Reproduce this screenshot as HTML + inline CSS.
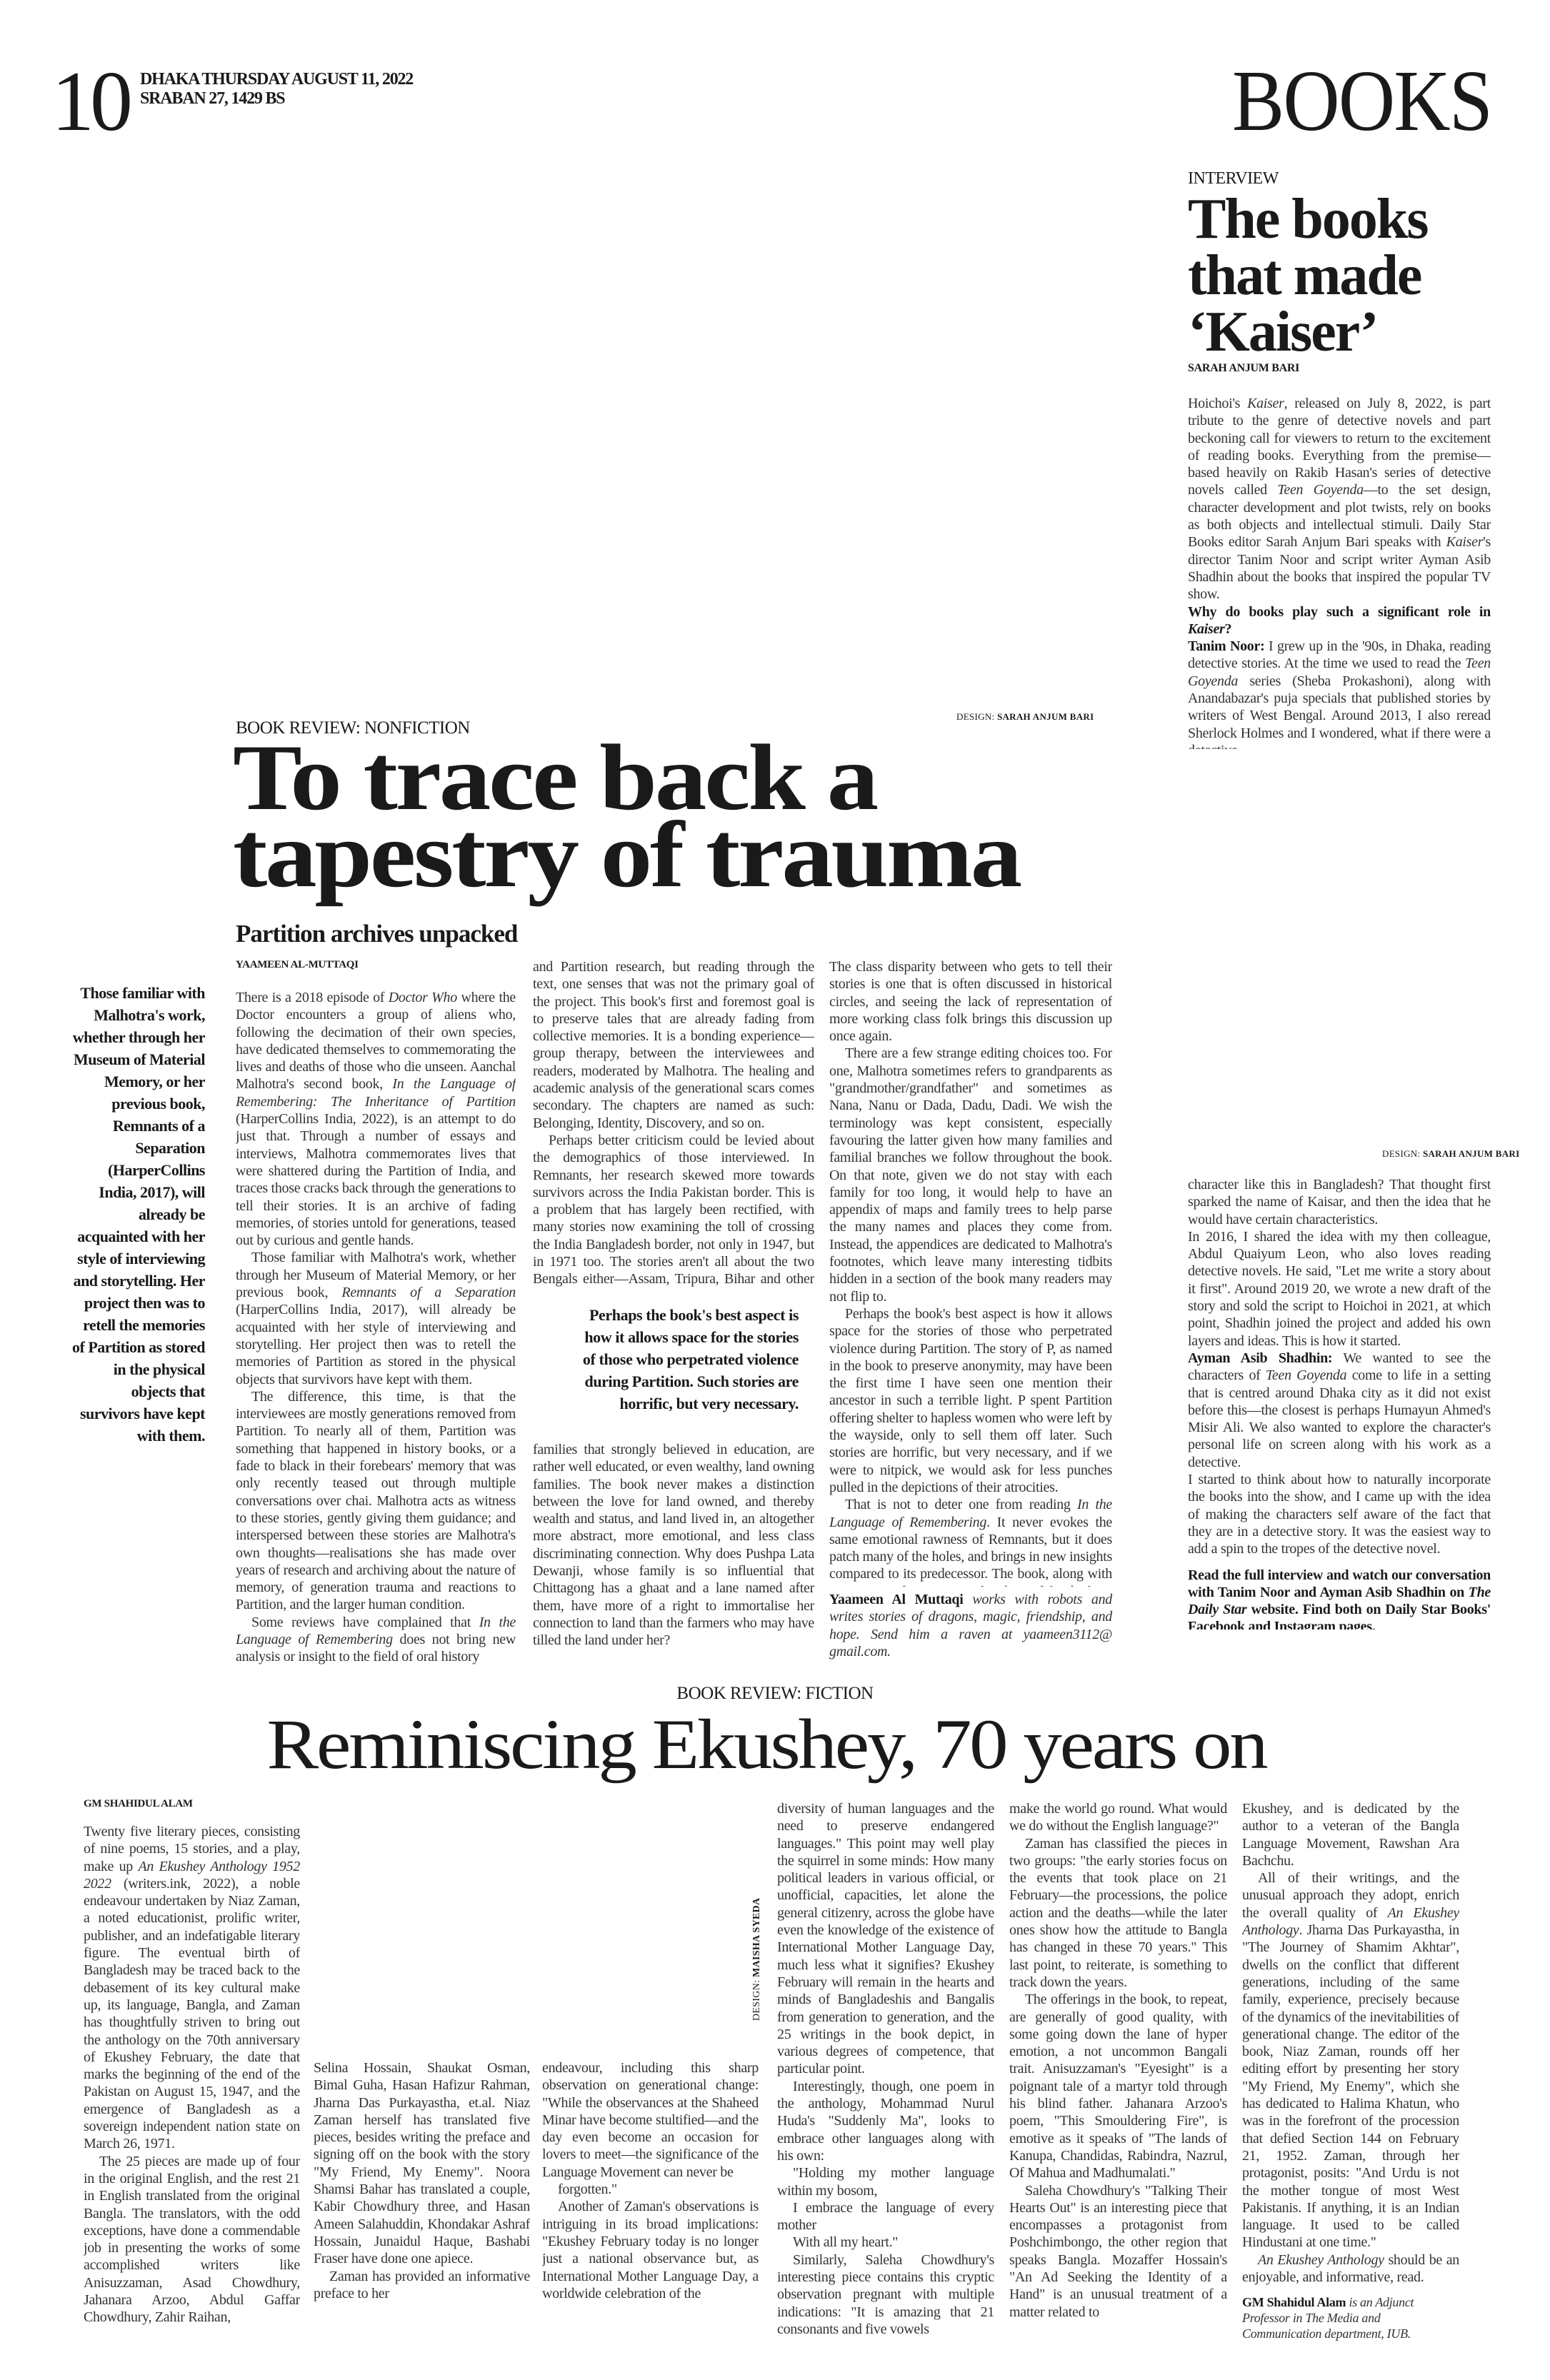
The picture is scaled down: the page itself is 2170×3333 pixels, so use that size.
<!DOCTYPE html>
<html><head><meta charset="utf-8">
<style>
*{margin:0;padding:0;box-sizing:border-box}
body{width:2170px;height:3333px;background:#fff;position:relative;overflow:hidden;font-family:"Liberation Serif",serif;color:#1a1a1a}
.a{position:absolute}
.col{position:absolute;font-size:20px;line-height:24.3px;text-align:justify;overflow:hidden;letter-spacing:-0.3px;color:#333}
.col p{text-indent:0}
.col p+p{text-indent:22px}
.kick{font-size:25px;letter-spacing:-0.5px;color:#1a1a1a}
.by{font-size:16px;font-weight:bold;letter-spacing:-0.3px}
b{color:#1a1a1a}
</style></head><body>

<div class="a" style="left:72px;top:82px;font-size:120px;line-height:120px;letter-spacing:-6px;transform:scaleX(1.0);transform-origin:left">10</div>
<div class="a" style="left:196px;top:98px;font-size:24px;line-height:27px;font-weight:bold;letter-spacing:-1.2px">DHAKA THURSDAY AUGUST 11, 2022<br>SRABAN 27, 1429 BS</div>
<div class="a" style="left:1725px;top:82px;font-size:122px;line-height:120px;transform:scaleX(0.9);transform-origin:left;letter-spacing:-2px">BOOKS</div>

<div class="a kick" style="left:1663px;top:237px;font-size:24px">INTERVIEW</div>
<div class="a" style="left:1663px;top:268px;font-size:80px;line-height:79px;font-weight:bold;letter-spacing:-2px">The books<br>that made<br>‘Kaiser’</div>
<div class="a by" style="left:1663px;top:507px">SARAH ANJUM BARI</div>

<div class="col" style="left:1663px;top:553px;width:424px;height:496px">
<p>Hoichoi's <i>Kaiser</i>, released on July 8, 2022, is part tribute to the genre of detective novels and part beckoning call for viewers to return to the excitement of reading books. Everything from the premise—based heavily on Rakib Hasan's series of detective novels called <i>Teen Goyenda</i>—to the set design, character development and plot twists, rely on books as both objects and intellectual stimuli. Daily Star Books editor Sarah Anjum Bari speaks with <i>Kaiser</i>'s director Tanim Noor and script writer Ayman Asib Shadhin about the books that inspired the popular TV show.</p>
<p style="text-indent:0"><b>Why do books play such a significant role in <i>Kaiser</i>?</b></p>
<p style="text-indent:0"><b>Tanim Noor:</b> I grew up in the '90s, in Dhaka, reading detective stories. At the time we used to read the <i>Teen Goyenda</i> series (Sheba Prokashoni), along with Anandabazar's puja specials that published stories by writers of West Bengal. Around 2013, I also reread Sherlock Holmes and I wondered, what if there were a detective</p>
</div>

<div class="a" style="left:1339px;top:996px;font-size:13px;letter-spacing:0.3px">DESIGN: <b>SARAH ANJUM BARI</b></div>
<div class="a" style="left:1935px;top:1608px;font-size:13px;letter-spacing:0.3px">DESIGN: <b>SARAH ANJUM BARI</b></div>

<div class="col" style="left:1663px;top:1647px;width:424px;height:635px">
<p>character like this in Bangladesh? That thought first sparked the name of Kaisar, and then the idea that he would have certain characteristics.</p>
<p style="text-indent:0">In 2016, I shared the idea with my then colleague, Abdul Quaiyum Leon, who also loves reading detective novels. He said, "Let me write a story about it first". Around 2019 20, we wrote a new draft of the story and sold the script to Hoichoi in 2021, at which point, Shadhin joined the project and added his own layers and ideas. This is how it started.</p>
<p style="text-indent:0"><b>Ayman Asib Shadhin:</b> We wanted to see the characters of <i>Teen Goyenda</i> come to life in a setting that is centred around Dhaka city as it did not exist before this—the closest is perhaps Humayun Ahmed's Misir Ali. We also wanted to explore the character's personal life on screen along with his work as a detective.</p>
<p style="text-indent:0">I started to think about how to naturally incorporate the books into the show, and I came up with the idea of making the characters self aware of the fact that they are in a detective story. It was the easiest way to add a spin to the tropes of the detective novel.</p>
<p style="text-indent:0;margin-top:12px"><b>Read the full interview and watch our conversation with Tanim Noor and Ayman Asib Shadhin on <i>The Daily Star</i> website. Find both on Daily Star Books' Facebook and Instagram pages.</b></p>
</div>

<div class="a kick" style="left:330px;top:1006px">BOOK REVIEW: NONFICTION</div>
<div class="a" style="left:326px;top:1035px;font-size:132px;line-height:108px;font-weight:bold;letter-spacing:-3px;white-space:nowrap;transform:scaleX(1.1);transform-origin:left top">To trace back a<br>tapestry of trauma</div>
<div class="a" style="left:330px;top:1288px;font-size:35px;font-weight:bold;letter-spacing:-1px">Partition archives unpacked</div>
<div class="a by" style="left:330px;top:1343px;font-size:15px">YAAMEEN AL-MUTTAQI</div>

<div class="a" style="left:100px;top:1375px;width:187px;font-size:22px;line-height:31px;font-weight:bold;text-align:right;letter-spacing:-0.5px">Those familiar with Malhotra's work, whether through her Museum of Material Memory, or her previous book, Remnants of a Separation (HarperCollins India, 2017), will already be acquainted with her style of interviewing and storytelling. Her project then was to retell the memories of Partition as stored in the physical objects that survivors have kept with them.</div>

<div class="col" style="left:330px;top:1385px;width:392px;height:950px">
<p>There is a 2018 episode of <i>Doctor Who</i> where the Doctor encounters a group of aliens who, following the decimation of their own species, have dedicated themselves to commemorating the lives and deaths of those who die unseen. Aanchal Malhotra's second book, <i>In the Language of Remembering: The Inheritance of Partition</i> (HarperCollins India, 2022), is an attempt to do just that. Through a number of essays and interviews, Malhotra commemorates lives that were shattered during the Partition of India, and traces those cracks back through the generations to tell their stories. It is an archive of fading memories, of stories untold for generations, teased out by curious and gentle hands.</p>
<p>Those familiar with Malhotra's work, whether through her Museum of Material Memory, or her previous book, <i>Remnants of a Separation</i> (HarperCollins India, 2017), will already be acquainted with her style of interviewing and storytelling. Her project then was to retell the memories of Partition as stored in the physical objects that survivors have kept with them.</p>
<p>The difference, this time, is that the interviewees are mostly generations removed from Partition. To nearly all of them, Partition was something that happened in history books, or a fade to black in their forebears' memory that was only recently teased out through multiple conversations over chai. Malhotra acts as witness to these stories, gently giving them guidance; and interspersed between these stories are Malhotra's own thoughts—realisations she has made over years of research and archiving about the nature of memory, of generation trauma and reactions to Partition, and the larger human condition.</p>
<p>Some reviews have complained that <i>In the Language of Remembering</i> does not bring new analysis or insight to the field of oral history</p>
</div>

<div class="col" style="left:746px;top:1342px;width:394px;height:462px">
<p>and Partition research, but reading through the text, one senses that was not the primary goal of the project. This book's first and foremost goal is to preserve tales that are already fading from collective memories. It is a bonding experience—group therapy, between the interviewees and readers, moderated by Malhotra. The healing and academic analysis of the generational scars comes secondary. The chapters are named as such: Belonging, Identity, Discovery, and so on.</p>
<p>Perhaps better criticism could be levied about the demographics of those interviewed. In Remnants, her research skewed more towards survivors across the India Pakistan border. This is a problem that has largely been rectified, with many stories now examining the toll of crossing the India Bangladesh border, not only in 1947, but in 1971 too. The stories aren't all about the two Bengals either—Assam, Tripura, Bihar and other border states get to share too.</p>
<p>However, the tales still all lean towards</p>
</div>

<div class="a" style="left:812px;top:1826px;width:306px;font-size:22px;line-height:31px;font-weight:bold;text-align:right;letter-spacing:-0.4px">Perhaps the book's best aspect is how it allows space for the stories of those who perpetrated violence during Partition. Such stories are horrific, but very necessary.</div>

<div class="col" style="left:746px;top:2018px;width:394px;height:318px">
<p>families that strongly believed in education, are rather well educated, or even wealthy, land owning families. The book never makes a distinction between the love for land owned, and thereby wealth and status, and land lived in, an altogether more abstract, more emotional, and less class discriminating connection. Why does Pushpa Lata Dewanji, whose family is so influential that Chittagong has a ghaat and a lane named after them, have more of a right to immortalise her connection to land than the farmers who may have tilled the land under her?</p>
</div>

<div class="col" style="left:1161px;top:1342px;width:396px;height:880px">
<p>The class disparity between who gets to tell their stories is one that is often discussed in historical circles, and seeing the lack of representation of more working class folk brings this discussion up once again.</p>
<p>There are a few strange editing choices too. For one, Malhotra sometimes refers to grandparents as "grandmother/grandfather" and sometimes as Nana, Nanu or Dada, Dadu, Dadi. We wish the terminology was kept consistent, especially favouring the latter given how many families and familial branches we follow throughout the book. On that note, given we do not stay with each family for too long, it would help to have an appendix of maps and family trees to help parse the many names and places they come from. Instead, the appendices are dedicated to Malhotra's footnotes, which leave many interesting tidbits hidden in a section of the book many readers may not flip to.</p>
<p>Perhaps the book's best aspect is how it allows space for the stories of those who perpetrated violence during Partition. The story of P, as named in the book to preserve anonymity, may have been the first time I have seen one mention their ancestor in such a terrible light. P spent Partition offering shelter to hapless women who were left by the wayside, only to sell them off later. Such stories are horrific, but very necessary, and if we were to nitpick, we would ask for less punches pulled in the depictions of their atrocities.</p>
<p>That is not to deter one from reading <i>In the Language of Remembering</i>. It never evokes the same emotional rawness of Remnants, but it does patch many of the holes, and brings in new insights compared to its predecessor. The book, along with <i>Remnants</i>, forms a truly beautiful duology archiving the minutia of Partition.</p>
</div>
<div class="col" style="left:1161px;top:2228px;width:396px;height:100px">
<p><b>Yaameen Al Muttaqi</b> <i>works with robots and writes stories of dragons, magic, friendship, and hope. Send him a raven at yaameen3112@ gmail.com.</i></p>
</div>

<div class="a kick" style="left:0;width:2170px;text-align:center;top:2358px">BOOK REVIEW: FICTION</div>
<div class="a" style="left:0;width:2170px;text-align:center;top:2388px;font-size:100px;line-height:110px;letter-spacing:-3px;white-space:nowrap;transform:translateX(-12px) scaleX(1.09);transform-origin:center top">Reminiscing Ekushey, 70 years on</div>
<div class="a by" style="left:117px;top:2518px;font-size:15px">GM SHAHIDUL ALAM</div>

<div class="col" style="left:117px;top:2553px;width:303px;height:725px">
<p>Twenty five literary pieces, consisting of nine poems, 15 stories, and a play, make up <i>An Ekushey Anthology 1952 2022</i> (writers.ink, 2022), a noble endeavour undertaken by Niaz Zaman, a noted educationist, prolific writer, publisher, and an indefatigable literary figure. The eventual birth of Bangladesh may be traced back to the debasement of its key cultural make up, its language, Bangla, and Zaman has thoughtfully striven to bring out the anthology on the 70th anniversary of Ekushey February, the date that marks the beginning of the end of the Pakistan on August 15, 1947, and the emergence of Bangladesh as a sovereign independent nation state on March 26, 1971.</p>
<p>The 25 pieces are made up of four in the original English, and the rest 21 in English translated from the original Bangla. The translators, with the odd exceptions, have done a commendable job in presenting the works of some accomplished writers like Anisuzzaman, Asad Chowdhury, Jahanara Arzoo, Abdul Gaffar Chowdhury, Zahir Raihan,</p>
</div>

<div class="col" style="left:439px;top:2884px;width:303px;height:394px">
<p>Selina Hossain, Shaukat Osman, Bimal Guha, Hasan Hafizur Rahman, Jharna Das Purkayastha, et.al. Niaz Zaman herself has translated five pieces, besides writing the preface and signing off on the book with the story "My Friend, My Enemy". Noora Shamsi Bahar has translated a couple, Kabir Chowdhury three, and Hasan Ameen Salahuddin, Khondakar Ashraf Hossain, Junaidul Haque, Bashabi Fraser have done one apiece.</p>
<p>Zaman has provided an informative preface to her</p>
</div>

<div class="col" style="left:759px;top:2884px;width:303px;height:394px">
<p>endeavour, including this sharp observation on generational change: "While the observances at the Shaheed Minar have become stultified—and the day even become an occasion for lovers to meet—the significance of the Language Movement can never be</p>
<p>forgotten."</p>
<p>Another of Zaman's observations is intriguing in its broad implications: "Ekushey February today is no longer just a national observance but, as International Mother Language Day, a worldwide celebration of the</p>
</div>

<div class="a" style="left:1052px;top:2830px;font-size:14px;white-space:nowrap;transform:rotate(-90deg);transform-origin:left top;letter-spacing:0.3px">DESIGN: <b>MAISHA SYEDA</b></div>

<div class="col" style="left:1088px;top:2521px;width:304px;height:757px">
<p>diversity of human languages and the need to preserve endangered languages." This point may well play the squirrel in some minds: How many political leaders in various official, or unofficial, capacities, let alone the general citizenry, across the globe have even the knowledge of the existence of International Mother Language Day, much less what it signifies? Ekushey February will remain in the hearts and minds of Bangladeshis and Bangalis from generation to generation, and the 25 writings in the book depict, in various degrees of competence, that particular point.</p>
<p>Interestingly, though, one poem in the anthology, Mohammad Nurul Huda's "Suddenly Ma", looks to embrace other languages along with his own:</p>
<p>"Holding my mother language within my bosom,</p>
<p>I embrace the language of every mother</p>
<p>With all my heart."</p>
<p>Similarly, Saleha Chowdhury's interesting piece contains this cryptic observation pregnant with multiple indications: "It is amazing that 21 consonants and five vowels</p>
</div>

<div class="col" style="left:1413px;top:2521px;width:305px;height:757px">
<p>make the world go round. What would we do without the English language?"</p>
<p>Zaman has classified the pieces in two groups: "the early stories focus on the events that took place on 21 February—the processions, the police action and the deaths—while the later ones show how the attitude to Bangla has changed in these 70 years." This last point, to reiterate, is something to track down the years.</p>
<p>The offerings in the book, to repeat, are generally of good quality, with some going down the lane of hyper emotion, a not uncommon Bangali trait. Anisuzzaman's "Eyesight" is a poignant tale of a martyr told through his blind father. Jahanara Arzoo's poem, "This Smouldering Fire", is emotive as it speaks of "The lands of Kanupa, Chandidas, Rabindra, Nazrul, Of Mahua and Madhumalati."</p>
<p>Saleha Chowdhury's "Talking Their Hearts Out" is an interesting piece that encompasses a protagonist from Poshchimbongo, the other region that speaks Bangla. Mozaffer Hossain's "An Ad Seeking the Identity of a Hand" is an unusual treatment of a matter related to</p>
</div>

<div class="col" style="left:1739px;top:2521px;width:304px;height:757px">
<p>Ekushey, and is dedicated by the author to a veteran of the Bangla Language Movement, Rawshan Ara Bachchu.</p>
<p>All of their writings, and the unusual approach they adopt, enrich the overall quality of <i>An Ekushey Anthology</i>. Jharna Das Purkayastha, in "The Journey of Shamim Akhtar", dwells on the conflict that different generations, including of the same family, experience, precisely because of the dynamics of the inevitabilities of generational change. The editor of the book, Niaz Zaman, rounds off her editing effort by presenting her story "My Friend, My Enemy", which she has dedicated to Halima Khatun, who was in the forefront of the procession that defied Section 144 on February 21, 1952. Zaman, through her protagonist, posits: "And Urdu is not the mother tongue of most West Pakistanis. If anything, it is an Indian language. It used to be called Hindustani at one time."</p>
<p><i>An Ekushey Anthology</i> should be an enjoyable, and informative, read.</p>
<p style="text-indent:0;margin-top:12px;font-size:18px;line-height:22px;text-align:left"><b>GM Shahidul Alam</b> <i>is an Adjunct Professor in The Media and Communication department, IUB.</i></p>
</div>

</body></html>
